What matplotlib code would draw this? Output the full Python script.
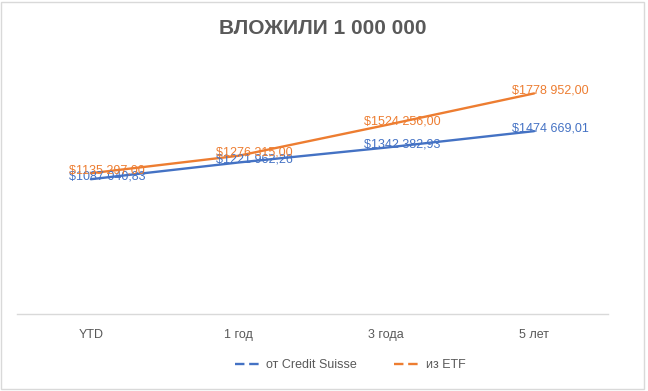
import matplotlib.pyplot as plt
from matplotlib.lines import Line2D
from matplotlib.patches import Rectangle

# --- Dane ---
categories = ['YTD', '1 год', '3 года', '5 лет']
credit_suisse = [1087040.83, 1221962.26, 1342382.93, 1474669.01]
etf = [1135297.00, 1276315.00, 1524256.00, 1778952.00]
labels_cs = ['$1087 040,83', '$1221 962,26', '$1342 382,93', '$1474 669,01']
labels_etf = ['$1135 297,00', '$1276 315,00', '$1524 256,00', '$1778 952,00']

blue = '#4472C4'
orange = '#ED7D31'
gray = '#595959'

plt.rcParams['font.family'] = ['Liberation Sans', 'DejaVu Sans']

fig = plt.figure(figsize=(6.48, 3.91), dpi=100)
ax = fig.add_axes([17 / 648, 77 / 391, 591 / 648, 248 / 391])

x = range(len(categories))
ax.plot(x, credit_suisse, color=blue, lw=1.7, solid_capstyle='round')
ax.plot(x, etf, color=orange, lw=1.7, solid_capstyle='round')

for i in x:
    ax.annotate(labels_cs[i], (i, credit_suisse[i]), xytext=(16, 3),
                textcoords='offset pixels', ha='center', va='center',
                color=blue, fontsize=9)
    ax.annotate(labels_etf[i], (i, etf[i]), xytext=(16, 3),
                textcoords='offset pixels', ha='center', va='center',
                color=orange, fontsize=9)

ax.set_xlim(-0.5, 3.5)
ax.set_ylim(0, 2000000)
ax.set_xticks(list(x))
ax.set_xticklabels(categories, color=gray, fontsize=9)
ax.tick_params(axis='x', length=0, pad=11)
ax.set_yticks([])
for s in ['left', 'right', 'top']:
    ax.spines[s].set_visible(False)
ax.spines['bottom'].set_color('#D9D9D9')
ax.spines['bottom'].set_linewidth(1)

fig.text(323 / 648, 1 - 28 / 391, 'ВЛОЖИЛИ 1 000 000', ha='center', va='center',
         fontsize=15, fontweight='bold', color=gray)

handles = [Line2D([], [], color=blue, lw=1.7, ls=(0, (4, 2))),
           Line2D([], [], color=orange, lw=1.7, ls=(0, (4, 2)))]
fig.legend(handles, ['от Credit Suisse', 'из ETF'], loc='center',
           bbox_to_anchor=(350 / 648, 26 / 391), ncol=2, frameon=False,
           fontsize=9, labelcolor=gray, handlelength=2.2, handletextpad=0.3,
           columnspacing=3)

fig.patches.append(Rectangle((0.002, 0.004), 0.992, 0.99, transform=fig.transFigure,
                             fill=False, edgecolor='#D9D9D9', lw=1))

fig.savefig('out.png', dpi=100)
